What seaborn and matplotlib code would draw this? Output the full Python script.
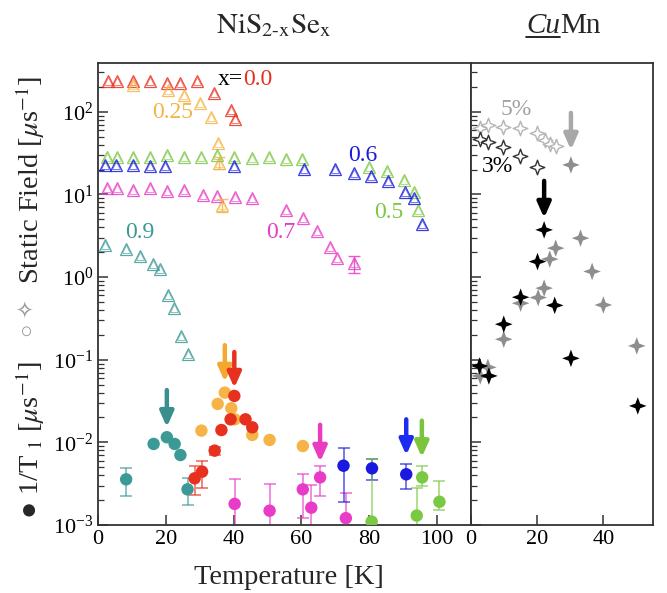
import numpy as np
import matplotlib
matplotlib.use("Agg")
import matplotlib.pyplot as plt
from matplotlib.path import Path
from matplotlib.lines import Line2D
import seaborn as sns

sns.set_theme(style="white")
plt.rcParams["font.family"] = ["Liberation Serif", "DejaVu Sans"]
plt.rcParams["mathtext.fontset"] = "stix"
plt.rcParams["axes.edgecolor"] = "#333333"
plt.rcParams["axes.linewidth"] = 1.3

# ---- NiS2-xSex, static field (open triangles) ----
t_00 = [3.0, 5.5, 10.3, 15.4, 20.3, 24.1, 29.2, 34.3, 39.3, 40.5]
f_00 = [233, 233, 233, 233, 223, 223, 233, 168, 106, 82]
t_025 = [10.3, 20.5, 25.4, 30.2, 33.3, 35.3, 35.6, 36.6]
f_025 = [212, 185, 161, 127, 86, 41.8, 23.9, 7.5]
t_05 = [2.6, 5.5, 10.3, 15.4, 20.3, 25.4, 30.3, 35.1, 40.2, 45.5, 50.4, 55.5, 60.3,
        79.9, 85.2, 90.3, 93.1, 94.5]
f_05 = [28.8, 28.8, 28.8, 28.8, 30.1, 28.8, 28.8, 30.1, 28.8, 27.5, 28.8, 26.8, 26.8,
        21.8, 19.5, 14.9, 10.6, 6.4]
t_06 = [2.1, 5.3, 10.3, 15.4, 19.8, 40.2, 60.7, 69.8, 75.5, 80.5, 85.4, 90.4, 93.2, 95.5]
f_06 = [22.8, 22.8, 22.8, 22.2, 22.2, 22.2, 20.2, 20.2, 18.1, 16.6, 14.5, 10.8, 9.0, 4.4]
t_07 = [2.6, 5.5, 10.3, 15.4, 20.3, 25.4, 31.0, 35.1, 40.3, 45.5, 55.3, 60.6, 64.5,
        68.4, 70.4, 75.5]
f_07 = [11.9, 11.9, 11.3, 12.0, 11.1, 11.3, 9.9, 9.7, 9.4, 9.0, 6.5, 5.16, 3.66,
        2.34, 1.69, 1.47]
t_09 = [2.1, 8.3, 12.4, 16.2, 18.3, 20.5, 22.5, 24.5, 26.4]
f_09 = [2.45, 2.18, 1.81, 1.43, 1.25, 0.61, 0.42, 0.194, 0.117]

# triangles with visible error bars: T, value, low, high
tri_err_t = [35.6, 36.6, 75.5]
tri_err_v = [23.9, 7.5, 1.47]
tri_err_lo = [20.3, 6.2, 1.11]
tri_err_hi = [28.8, 8.8, 1.81]
tri_err_c = ["#f5b445", "#f5b445", "#e83cc8"]

# ---- NiS2-xSex, 1/T1 (filled circles) ----
r_t_09 = [8.3, 16.4, 20.3, 22.6, 24.3, 26.4]
r_09 = [0.00357, 0.00957, 0.01154, 0.00957, 0.00703, 0.0027]
r_t_00 = [28.5, 30.7, 34.4, 36.4, 39.1, 40.2, 43.5, 45.5]
r_00 = [0.00367, 0.00442, 0.00794, 0.0141, 0.0190, 0.0365, 0.0190, 0.0152]
r_t_025 = [30.5, 35.3, 37.4, 39.3, 40.3, 45.5, 50.6, 60.4]
r_025 = [0.01387, 0.0292, 0.040, 0.0259, 0.0190, 0.0123, 0.0107, 0.00903]
r_t_07 = [40.3, 50.6, 60.4, 62.9, 65.5, 73.1]
r_07 = [0.0018, 0.00149, 0.0027, 0.00162, 0.00377, 0.00121]
r_t_06 = [72.4, 80.8, 90.9]
r_06 = [0.00522, 0.00485, 0.00411]
r_t_05 = [80.7, 94.0, 95.6, 100.7]
r_05 = [0.0011, 0.0013, 0.00377, 0.00191]

# circle error bars: T, value, low, high, colour
c_err_t = [8.3, 26.4, 28.5, 30.7, 34.4,
           40.3, 50.6, 60.4, 62.9, 65.5, 73.1,
           72.4, 80.8, 90.9,
           80.7, 94.0, 95.6, 100.7]
c_err_v = [0.00357, 0.0027, 0.00367, 0.00442, 0.00794,
           0.0018, 0.00149, 0.0027, 0.00162, 0.00377, 0.00121,
           0.00522, 0.00485, 0.00411,
           0.0011, 0.0013, 0.00377, 0.00191]
c_err_lo = [0.00227, 0.00175, 0.00231, 0.00278, 0.0071,
            0.0008, 0.0008, 0.00121, 0.0008, 0.00227, 0.0008,
            0.00188, 0.00351, 0.0027,
            0.0008, 0.0008, 0.0030, 0.0015]
c_err_hi = [0.00485, 0.00367, 0.00517, 0.0060, 0.0089,
            0.00357, 0.00314, 0.00414, 0.00305, 0.00523, 0.00246,
            0.00863, 0.00624, 0.00543,
            0.00624, 0.00283, 0.00523, 0.00341]
c_err_c = ["#3c9a96", "#3c9a96", "#e8301e", "#e8301e", "#e8301e",
           "#e83cc8", "#e83cc8", "#e83cc8", "#e83cc8", "#e83cc8", "#e83cc8",
           "#1a1adf", "#1a1adf", "#1a1adf",
           "#7ac943", "#7ac943", "#7ac943", "#7ac943"]

# arrows (T, top, tip, colour)
arr_t = [20.3, 37.4, 40.2, 65.5, 90.9, 95.5]
arr_top = [0.043, 0.15, 0.124, 0.0163, 0.019, 0.0183]
arr_tip = [0.0153, 0.054, 0.0456, 0.0058, 0.0070, 0.0066]
arr_c = ["#3a8f8c", "#f5a830", "#e8301e", "#ea3cc0", "#1c2cf0", "#7cc43c"]

# ---- CuMn ----
cu5_open_t = [2.8, 5.1, 9.6, 14.9, 19.9, 22.3, 23.8, 25.8]
cu5_open_f = [63.5, 69.7, 65.3, 64.6, 56.1, 45.8, 41.0, 38.8]
cu3_open_t = [2.8, 5.1, 9.6, 14.9, 19.9]
cu3_open_f = [47.1, 43.7, 37.4, 29.3, 21.8]
cu5_t = [2.8, 5.1, 9.9, 15.0, 20.3, 22.1, 23.8, 25.6, 30.2, 33.1, 36.6, 40.0, 50.1]
cu5_r = [0.0637, 0.081, 0.177, 0.483, 0.565, 0.735, 1.65, 2.24, 22.8, 2.96, 1.17, 0.46, 0.147]
cu3_t = [2.6, 5.4, 9.9, 15.0, 20.1, 22.1, 25.3, 30.2, 50.4]
cu3_r = [0.084, 0.0637, 0.269, 0.571, 1.54, 3.73, 0.455, 0.104, 0.0276]
cu_arr_t = [30.2, 22.1]
cu_arr_top = [97.0, 14.6]
cu_arr_tip = [34.7, 5.2]
cu_arr_c = ["#a8a8a8", "#000000"]

colors = {"0.0": "#e8301e", "0.25": "#f5b445", "0.5": "#7ac943",
          "0.6": "#1a1adf", "0.7": "#e83cc8", "0.9": "#3c9a96"}

star = Path.unit_regular_star(4, 0.38)

fig = plt.figure(figsize=(6.67, 5.93), dpi=100)
ax1 = fig.add_axes([98 / 667, 1 - 525 / 593, 373 / 667, 462 / 593])
ax2 = fig.add_axes([471 / 667, 1 - 525 / 593, 182 / 667, 462 / 593])

# triangles, drawn twice for the doubled outline
tri_sets = [(t_00, f_00, "0.0"), (t_025, f_025, "0.25"), (t_05, f_05, "0.5"),
            (t_06, f_06, "0.6"), (t_07, f_07, "0.7"), (t_09, f_09, "0.9")]
for tt, ff, key in tri_sets:
    ax1.plot(tt, ff, ls="none", marker="^", ms=9, mfc="none", mec=colors[key], mew=0.9, alpha=0.85)
    ax1.plot(tt, ff, ls="none", marker="^", ms=6, mfc="none", mec=colors[key], mew=0.7, alpha=0.6)

for tt, v, lo, hi, c in zip(tri_err_t, tri_err_v, tri_err_lo, tri_err_hi, tri_err_c):
    ax1.errorbar([tt], [v], yerr=[[v - lo], [hi - v]], fmt="none", ecolor=c,
                 elinewidth=1.0, capsize=4, capthick=1.0, alpha=0.85)

for tt, v, lo, hi, c in zip(c_err_t, c_err_v, c_err_lo, c_err_hi, c_err_c):
    ax1.errorbar([tt], [v], yerr=[[v - lo], [hi - v]], fmt="none", ecolor=c,
                 elinewidth=1.1, capsize=4, capthick=1.1, alpha=0.75, zorder=2)

circ_sets = [(r_t_09, r_09, "0.9"), (r_t_025, r_025, "0.25"), (r_t_00, r_00, "0.0"),
             (r_t_07, r_07, "0.7"), (r_t_06, r_06, "0.6"), (r_t_05, r_05, "0.5")]
for tt, rr, key in circ_sets:
    sns.scatterplot(x=tt, y=rr, ax=ax1, color=colors[key], s=80, edgecolor="none",
                    zorder=3, legend=False)

for tt, top, tip, c in zip(arr_t, arr_top, arr_tip, arr_c):
    ax1.annotate("", xy=(tt, tip), xytext=(tt, top),
                 arrowprops=dict(arrowstyle="-|>,head_length=0.45,head_width=0.2",
                                 color=c, lw=3.2, mutation_scale=20,
                                 shrinkA=0, shrinkB=0))

ax1.set_yscale("log")
ax1.set_xlim(0, 110)
ax1.set_ylim(1e-3, 390)
ax1.set_xticks([0, 20, 40, 60, 80, 100])
ax1.tick_params(axis="both", which="both", direction="in", labelsize=16,
                left=True, bottom=True, right=False, top=False, colors="#333333",
                labelcolor="black")
ax1.tick_params(axis="both", which="major", length=7, width=1.1)
ax1.tick_params(axis="y", which="minor", length=4, width=0.9)
ax1.tick_params(axis="x", which="minor", bottom=False)

txt = dict(fontsize=17, ha="center", va="center")
ax1.text(42.7, 244, "x=", color="black", fontsize=17, ha="right", va="center")
ax1.text(42.7, 244, "0.0", color=colors["0.0"], fontsize=17, ha="left", va="center")
ax1.text(21.9, 97, "0.25", color=colors["0.25"], **txt)
ax1.text(78.1, 30, "0.6", color=colors["0.6"], **txt)
ax1.text(85.8, 6.0, "0.5", color=colors["0.5"], **txt)
ax1.text(53.8, 3.43, "0.7", color=colors["0.7"], **txt)
ax1.text(12.4, 3.43, "0.9", color=colors["0.9"], **txt)

# CuMn panel
sns.scatterplot(x=cu5_open_t, y=cu5_open_f, ax=ax2, marker=star, s=110,
                facecolor="white", edgecolor="#b5b5b5", linewidth=1.0, legend=False)
sns.scatterplot(x=cu3_open_t, y=cu3_open_f, ax=ax2, marker=star, s=110,
                facecolor="white", edgecolor="#333333", linewidth=1.0, legend=False)
sns.scatterplot(x=cu5_t, y=cu5_r, ax=ax2, marker=star, s=160,
                color="#8e8e8e", edgecolor="none", legend=False)
sns.scatterplot(x=cu3_t, y=cu3_r, ax=ax2, marker=star, s=160,
                color="#000000", edgecolor="none", legend=False)
for tt, top, tip, c in zip(cu_arr_t, cu_arr_top, cu_arr_tip, cu_arr_c):
    ax2.annotate("", xy=(tt, tip), xytext=(tt, top),
                 arrowprops=dict(arrowstyle="-|>,head_length=0.45,head_width=0.2",
                                 color=c, lw=3.2, mutation_scale=20,
                                 shrinkA=0, shrinkB=0))
ax2.text(13.7, 106, "5%", color="#a0a0a0", **txt)
ax2.text(8.0, 21.6, "3%", color="black", **txt)

ax2.set_yscale("log")
ax2.set_xlim(0, 55)
ax2.set_ylim(1e-3, 390)
ax2.set_xticks([0, 20, 40])
ax2.tick_params(axis="both", which="both", direction="in", labelsize=16,
                left=True, bottom=True, right=False, top=False, labelleft=False,
                colors="#333333", labelcolor="black")
ax2.tick_params(axis="both", which="major", length=7, width=1.1)
ax2.tick_params(axis="y", which="minor", length=4, width=0.9)
ax2.tick_params(axis="x", which="minor", bottom=False)

# titles and labels
fig.text(274 / 667, 1 - 26 / 593, r"$\mathrm{NiS_{2\text{-}x}Se_{x}}$",
         fontsize=21, ha="center", va="center")
cu = fig.text(560 / 667, 1 - 26 / 593, "Cu", fontsize=21, style="italic",
              ha="right", va="center")
fig.text(560 / 667, 1 - 26 / 593, "Mn", fontsize=21, ha="left", va="center")
fig.canvas.draw()
bb = cu.get_window_extent().transformed(fig.transFigure.inverted())
fig.add_artist(Line2D([bb.x0, bb.x1], [bb.y0 + 0.004, bb.y0 + 0.004],
                      transform=fig.transFigure, color="black", lw=1.2))

fig.text(289 / 667, 1 - 578 / 593, "Temperature [K]", fontsize=20.5,
         ha="center", va="center")
fig.text(30 / 667, 1 - 180 / 593, r"Static Field [$\mu$s$^{-1}$]", fontsize=20.5,
         rotation=90, ha="center", va="center")
fig.text(30 / 667, 1 - 318 / 593, "○ ✧", fontsize=16, color="#999999",
         rotation=90, ha="center", va="center")
fig.text(30 / 667, 1 - 440 / 593, r"● 1/T$_{\ 1}$ [$\mu$s$^{-1}$]", fontsize=20.5,
         rotation=90, ha="center", va="center")

plt.savefig("out.png", dpi=100)
plt.close()
